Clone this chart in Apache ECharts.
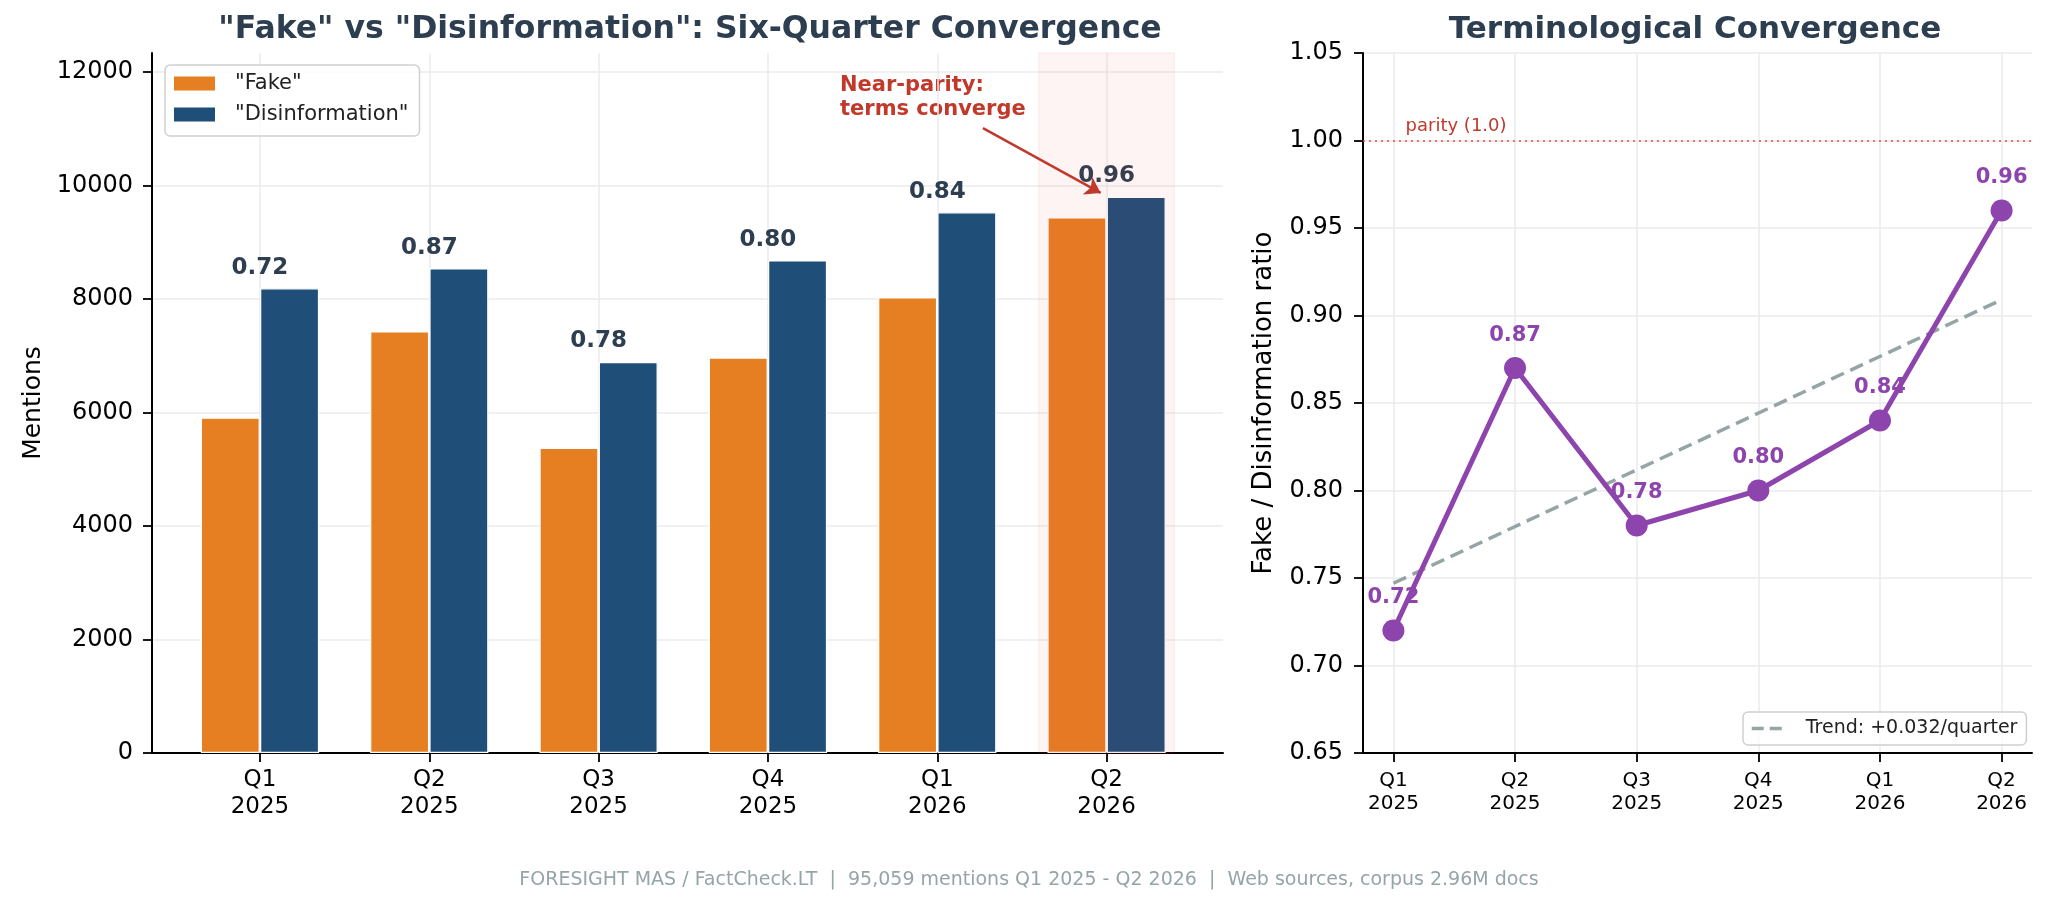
<!DOCTYPE html>
<html>
<head>
<meta charset="utf-8">
<script src="https://cdn.jsdelivr.net/npm/echarts@6/dist/echarts.min.js"></script>
<style>
html, body { margin: 0; padding: 0; background: #fff; }
#chart { width: 2048px; height: 908px; }
</style>
</head>
<body>
<div id="chart"></div>
<script>
// data
const quarters = ['Q1\n2025', 'Q2\n2025', 'Q3\n2025', 'Q4\n2025', 'Q1\n2026', 'Q2\n2026'];
const fakeMentions = [5910, 7430, 5380, 6970, 8030, 9440];
const disinfoMentions = [8190, 8540, 6890, 8680, 9530, 9800];
const ratios = [0.72, 0.87, 0.78, 0.80, 0.84, 0.96];
const trendEnds = [0.747, 0.909]; // trend line at Q1 2025 and Q2 2026
const mentionTicks = [0, 2000, 4000, 6000, 8000, 10000, 12000];
const ratioTicks = [0.65, 0.70, 0.75, 0.80, 0.85, 0.90, 0.95, 1.00, 1.05];
const quarterIdx = quarters.map((q, i) => i);

const FONT = 'DejaVu Sans';
const BAR_W = 0.35;
const FOOTER = 'FORESIGHT MAS / FactCheck.LT  |  95,059 mentions Q1 2025 - Q2 2026  |  Web sources, corpus 2.96M docs';

const gridLine = { show: true, lineStyle: { color: '#ebebeb', width: 1.5 } };
const spine = { show: true, onZero: false, lineStyle: { color: '#000', width: 2 } };
const ticks = vals => ({ show: true, length: 9, customValues: vals, lineStyle: { color: '#000', width: 1.8 } });

const chart = echarts.init(document.getElementById('chart'));

chart.setOption({
  animation: false,
  textStyle: { fontFamily: FONT },
  graphic: [
    {
      type: 'text', x: 690, y: 30,
      style: { text: '"Fake" vs "Disinformation": Six-Quarter Convergence', font: 'bold 31.5px "DejaVu Sans"',
        fill: '#2c3e50', textAlign: 'center', textVerticalAlign: 'middle' }
    },
    {
      type: 'text', x: 1695, y: 30,
      style: { text: 'Terminological Convergence', font: 'bold 31px "DejaVu Sans"',
        fill: '#2c3e50', textAlign: 'center', textVerticalAlign: 'middle' }
    },
    {
      type: 'text', x: 840, y: 74,
      style: { text: 'Near-parity:\nterms converge', font: 'bold 21px "DejaVu Sans"', lineHeight: 24,
        fill: '#c0392b', textAlign: 'left', textVerticalAlign: 'top' }
    },
    {
      type: 'text', x: 1029, y: 880,
      style: { text: FOOTER, font: '19px "DejaVu Sans"', fill: '#95a5a6',
        textAlign: 'center', textVerticalAlign: 'middle' }
    }
  ],
  legend: [
    {
      data: ['"Fake"', '"Disinformation"'], orient: 'vertical', left: 165, top: 65,
      padding: [8, 11, 11, 9], itemWidth: 41, itemHeight: 14, itemGap: 10, icon: 'rect',
      itemStyle: { borderWidth: 0 },
      textStyle: { fontSize: 21, lineHeight: 21, color: '#222', fontFamily: FONT, padding: [0, 0, 0, 15] },
      borderColor: '#d0d0d0', borderWidth: 1.5, borderRadius: 5, backgroundColor: 'rgba(255,255,255,0.85)'
    },
    {
      data: ['Trend: +0.032/quarter'], left: 1743, top: 712,
      padding: [7, 9, 7, 7], itemWidth: 34, itemHeight: 14,
      itemStyle: { opacity: 0 },
      lineStyle: { color: '#95a5a6', width: 3.5, type: [12, 6] },
      textStyle: { fontSize: 19, lineHeight: 19, color: '#222', fontFamily: FONT, padding: [0, 0, 0, 15] },
      borderColor: '#d0d0d0', borderWidth: 1.5, borderRadius: 5, backgroundColor: 'rgba(255,255,255,0.85)'
    }
  ],
  grid: [
    { left: 152, right: 825, top: 53, bottom: 155 },
    { left: 1363, right: 16, top: 53, bottom: 155 }
  ],
  xAxis: [
    {
      type: 'value', gridIndex: 0, min: -0.6375, max: 5.6875,
      axisLine: spine, axisTick: ticks(quarterIdx), splitLine: gridLine,
      axisLabel: { customValues: quarterIdx, formatter: v => quarters[Math.round(v)],
        fontSize: 23, lineHeight: 27, color: '#000', margin: 14 }
    },
    {
      type: 'value', gridIndex: 1, min: -0.25, max: 5.25,
      axisLine: spine, axisTick: ticks(quarterIdx), splitLine: gridLine,
      axisLabel: { customValues: quarterIdx, formatter: v => quarters[Math.round(v)],
        fontSize: 20, lineHeight: 23, color: '#000', margin: 16 }
    }
  ],
  yAxis: [
    {
      type: 'value', gridIndex: 0, min: 0, max: 12335,
      axisLine: spine, axisTick: ticks(mentionTicks), splitLine: gridLine,
      axisLabel: { customValues: mentionTicks, formatter: v => String(v), fontSize: 24, color: '#000', margin: 19 },
      name: 'Mentions', nameLocation: 'middle', nameGap: 104,
      nameTextStyle: { fontSize: 25, color: '#000' }
    },
    {
      type: 'value', gridIndex: 1, min: 0.65, max: 1.05,
      axisLine: spine, axisTick: ticks(ratioTicks), splitLine: gridLine,
      axisLabel: { customValues: ratioTicks, formatter: v => v.toFixed(2), fontSize: 24, color: '#000', margin: 20 },
      name: 'Fake / Disinformation ratio', nameLocation: 'middle', nameGap: 86,
      nameTextStyle: { fontSize: 26, color: '#000' }
    }
  ],
  series: [
    {
      name: '"Fake"', type: 'bar', xAxisIndex: 0, yAxisIndex: 0,
      data: fakeMentions.map((v, i) => [i - BAR_W / 2, v]),
      barWidth: 59, barGap: '-100%',
      itemStyle: { color: '#e67e22', borderColor: '#fff', borderWidth: 1.2 }
    },
    {
      name: '"Disinformation"', type: 'bar', xAxisIndex: 0, yAxisIndex: 0,
      data: disinfoMentions.map((v, i) => [i + BAR_W / 2, v]),
      barWidth: 59, barGap: '-100%',
      itemStyle: { color: '#1f4e79', borderColor: '#fff', borderWidth: 1.2 },
      markArea: {
        silent: true, z: 3,
        itemStyle: { color: 'rgba(231,76,60,0.06)', borderColor: 'rgba(231,76,60,0.1)', borderWidth: 1 },
        data: [[{ xAxis: 4.6 }, { xAxis: 5.4 }]]
      }
    },
    {
      type: 'scatter', xAxisIndex: 0, yAxisIndex: 0, silent: true,
      data: ratios.map((r, i) => [i, Math.max(fakeMentions[i], disinfoMentions[i])]),
      symbolSize: 0, itemStyle: { opacity: 1 },
      label: { show: true, position: 'top', distance: 9, formatter: p => ratios[p.dataIndex].toFixed(2),
        fontSize: 23, fontWeight: 'bold', color: '#2c3e50' },
      markLine: {
        silent: true, symbol: ['none', 'arrow'], symbolSize: 15,
        lineStyle: { color: '#c0392b', width: 2.5, type: 'solid' },
        label: { show: false },
        data: [[{ coord: [4.27, 11010] }, { coord: [4.965, 9870] }]]
      }
    },
    {
      name: 'Trend: +0.032/quarter', type: 'line', xAxisIndex: 1, yAxisIndex: 1,
      data: [[0, trendEnds[0]], [5, trendEnds[1]]],
      symbol: 'none', z: 2,
      lineStyle: { color: '#95a5a6', width: 3.5, type: [14, 7] },
      itemStyle: { color: '#95a5a6' },
      markLine: {
        silent: true, symbol: 'none',
        lineStyle: { color: 'rgba(231,76,60,0.75)', width: 2, type: [2, 4] },
        label: { show: false },
        data: [{ yAxis: 1.0 }]
      }
    },
    {
      name: 'ratio', type: 'line', xAxisIndex: 1, yAxisIndex: 1, z: 3,
      data: ratios.map((r, i) => [i, r]),
      symbol: 'circle', symbolSize: 22,
      lineStyle: { color: '#8e44ad', width: 5 },
      itemStyle: { color: '#8e44ad' },
      label: { show: true, position: 'top', distance: 11, formatter: p => ratios[p.dataIndex].toFixed(2),
        fontSize: 21, fontWeight: 'bold', color: '#8e44ad' }
    },
    {
      type: 'scatter', xAxisIndex: 1, yAxisIndex: 1, silent: true,
      data: [[0.1, 1.0]], symbolSize: 0, itemStyle: { opacity: 1 },
      label: { show: true, position: [0, -23], formatter: 'parity (1.0)', fontSize: 18, color: '#c0392b' }
    }
  ]
});
</script>
</body>
</html>
